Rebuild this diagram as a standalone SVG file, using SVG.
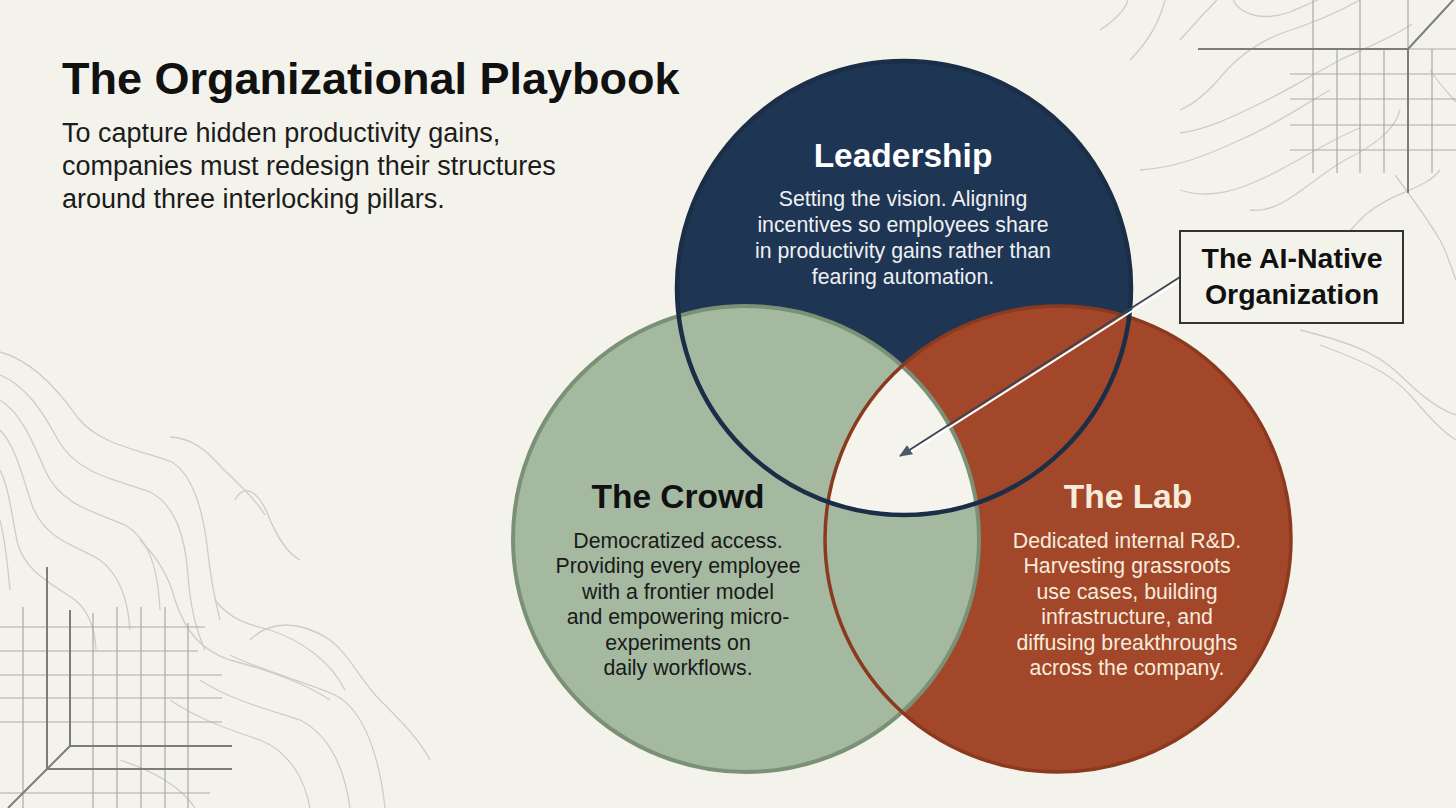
<svg xmlns="http://www.w3.org/2000/svg" width="1456" height="808" viewBox="0 0 1456 808">
<style>
.bg{fill:#f4f3eb}
.topo{fill:none;stroke:#cdcdc6;stroke-width:1.3}
.gridthin{fill:none;stroke:#a9a9a4;stroke-width:1.2}
.gridthick{fill:none;stroke:#7c7c79;stroke-width:2}
.h1{font-family:"Liberation Sans",Arial,sans-serif;font-weight:bold;fill:#111}
.sub{font-family:"Liberation Sans",Arial,sans-serif;fill:#1c1c1c}
.ttl{font-family:"Liberation Sans",Arial,sans-serif;font-weight:bold;font-size:33.5px;text-anchor:middle}
.body{font-family:"Liberation Sans",Arial,sans-serif;font-size:21.3px;text-anchor:middle}
</style>
<defs>
<clipPath id="cCrowd"><circle cx="746" cy="539" r="233"/></clipPath>
<clipPath id="cLab"><circle cx="1058" cy="539" r="233"/></clipPath>
<marker id="arrowHead" viewBox="0 0 12 10" refX="11" refY="5" markerWidth="13" markerHeight="11" markerUnits="userSpaceOnUse" orient="auto">
<path d="M0,0 L12,5 L0,10 Z" fill="#4d5867"/>
</marker>
</defs>
<rect class="bg" x="0" y="0" width="1456" height="808"/>
<g id="background">
<path class="topo" d="M1217,0 C1205,12 1196,22 1180,40"/>
<path class="topo" d="M1180,110 C1195,104 1210,90 1225,72 C1240,55 1262,40 1285,32 C1310,24 1335,14 1360,0"/>
<path class="topo" d="M1180,133 C1205,130 1230,118 1255,106 C1285,92 1310,76 1340,60 C1365,48 1392,38 1412,24"/>
<path class="topo" d="M1140,170 C1175,168 1205,156 1240,140 C1275,125 1305,104 1330,90"/>
<path class="topo" d="M1233,0 C1240,14 1262,22 1290,12 C1300,8 1310,3 1318,0"/>
<path class="topo" d="M1180,190 C1210,200 1240,190 1270,175 C1300,160 1330,140 1360,128"/>
<path class="topo" d="M1250,210 C1280,215 1310,180 1345,160 C1375,145 1395,130 1400,110"/>
<path class="topo" d="M1300,260 C1320,270 1340,240 1365,215 C1395,190 1425,190 1440,170"/>
<path class="topo" d="M1430,70 C1440,85 1450,95 1456,102"/>
<path class="topo" d="M1395,175 C1410,195 1425,215 1440,240 C1448,255 1452,270 1456,280"/>
<path class="topo" d="M1300,330 C1340,340 1375,350 1400,375 C1420,395 1440,410 1456,415"/>
<path class="topo" d="M1320,345 C1360,360 1390,372 1410,395 C1425,412 1440,430 1456,440"/>
<path class="topo" d="M1130,60 C1150,40 1160,20 1165,0"/>
<path class="topo" d="M1100,30 C1115,20 1125,10 1128,0"/>
<path class="topo" d="M0,352 C30,360 55,385 78,418 C100,445 140,450 172,462 C192,475 202,505 207,545 C210,575 215,600 220,620"/>
<path class="topo" d="M0,375 C25,385 42,410 58,440 C78,475 118,480 150,492 C175,505 185,535 188,575 C190,605 196,630 205,650"/>
<path class="topo" d="M0,400 C20,412 32,440 45,470 C60,505 95,512 125,525 C150,540 158,570 160,610"/>
<path class="topo" d="M0,430 C15,445 22,475 32,505 C45,540 75,545 100,560 C120,575 128,600 130,630"/>
<path class="topo" d="M0,470 C10,490 12,520 18,545 C28,575 55,585 75,600 C90,612 95,630 96,650"/>
<path class="topo" d="M0,520 C6,545 8,570 10,590"/>
<path class="topo" d="M170,437 C190,438 205,448 222,468 C235,480 255,498 265,515"/>
<path class="topo" d="M235,500 C245,480 260,495 268,515 C278,540 290,555 300,560"/>
<path class="topo" d="M140,540 C160,560 170,580 175,600 C185,630 200,650 230,660 C260,668 300,680 330,700"/>
<path class="topo" d="M215,600 C230,620 250,625 270,630 C300,640 330,660 345,690"/>
<path class="topo" d="M170,700 C200,720 230,730 260,740 C290,752 305,780 310,808"/>
<path class="topo" d="M200,680 C230,700 270,710 300,720 C330,735 345,770 350,808"/>
<path class="topo" d="M230,655 C260,670 300,680 335,695 C365,710 380,760 385,808"/>
<path class="topo" d="M120,760 C150,770 180,785 195,808"/>
<path class="topo" d="M250,640 C270,620 300,620 330,640 C350,655 360,680 380,700 C400,720 420,740 430,760"/>
<path class="gridthin" d="M1313,0V173 M1337,49V173 M1360,0V173 M1384,49V173 M1408,0V49 M1432,49V173 M1290,74H1456 M1290,99H1456 M1290,125H1456 M1290,150H1456 M1408,49H1456"/>
<path class="gridthick" d="M1198,49H1408V193 M1408,49L1456,-3"/>
<path class="gridthin" d="M23,607V808 M93,613V808 M117,607V808 M141,607V808 M165,607V808 M188,623V808 M0,627H205 M0,651H198 M0,675H222 M0,698H222 M0,722H222 M0,793H210"/>
<path class="gridthick" d="M47,567V769H232 M70,610V746H232 M70,746L8,808"/>
</g>
<g id="circle-fills">
<circle cx="904" cy="288" r="227" fill="#1f3554"/>
<circle cx="1058" cy="539" r="233" fill="#a3472a"/>
<circle cx="746" cy="539" r="233" fill="#a4b9a0"/>
<g clip-path="url(#cCrowd)"><g clip-path="url(#cLab)"><circle cx="904" cy="288" r="227" fill="#f5f4ec"/></g></g>
</g>
<g id="circle-strokes" fill="none">
<circle cx="746" cy="539" r="233" stroke="#7a9176" stroke-width="4"/>
<circle cx="1058" cy="539" r="233" stroke="#8b3a1f" stroke-width="3.5"/>
<circle cx="904" cy="288" r="227" stroke="#1b2e48" stroke-width="4.5"/>
</g>
<g id="title">
<text class="h1" x="62" y="94" font-size="45">The Organizational Playbook</text>
<text class="sub" font-size="27"><tspan x="62" y="142">To capture hidden productivity gains,</tspan><tspan x="62" y="175">companies must redesign their structures</tspan><tspan x="62" y="208">around three interlocking pillars.</tspan></text>
</g>
<g id="node-leadership">
<text class="ttl" x="903" y="167" fill="#ffffff">Leadership</text>
<text class="body" fill="#eef0f2"><tspan x="903" y="206">Setting the vision. Aligning</tspan><tspan x="903" y="232">incentives so employees share</tspan><tspan x="903" y="258">in productivity gains rather than</tspan><tspan x="903" y="284">fearing automation.</tspan></text>
</g>
<g id="node-crowd">
<text class="ttl" x="678" y="508" fill="#111111">The Crowd</text>
<text class="body" fill="#1a1a1a"><tspan x="678" y="548">Democratized access.</tspan><tspan x="678" y="573.4">Providing every employee</tspan><tspan x="678" y="598.8">with a frontier model</tspan><tspan x="678" y="624.2">and empowering micro-</tspan><tspan x="678" y="649.6">experiments on</tspan><tspan x="678" y="675">daily workflows.</tspan></text>
</g>
<g id="node-lab">
<text class="ttl" x="1128" y="508" fill="#f6ecdc">The Lab</text>
<text class="body" fill="#f6ecdc"><tspan x="1127" y="548">Dedicated internal R&amp;D.</tspan><tspan x="1127" y="573.4">Harvesting grassroots</tspan><tspan x="1127" y="598.8">use cases, building</tspan><tspan x="1127" y="624.2">infrastructure, and</tspan><tspan x="1127" y="649.6">diffusing breakthroughs</tspan><tspan x="1127" y="675">across the company.</tspan></text>
</g>
<g id="connectors">
<line x1="1180" y1="280.5" x2="910" y2="452.5" stroke="#ffffff" stroke-width="2"/>
<line x1="1180" y1="277" x2="900" y2="456" stroke="#3c4452" stroke-width="1.8" marker-end="url(#arrowHead)"/>
</g>
<g id="node-ai-native">
<rect x="1180" y="231" width="223" height="92" fill="#f4f3eb" stroke="#333333" stroke-width="2"/>
<text class="h1" font-size="28.5" text-anchor="middle"><tspan x="1292" y="268">The AI-Native</tspan><tspan x="1292" y="304">Organization</tspan></text>
</g>
</svg>
